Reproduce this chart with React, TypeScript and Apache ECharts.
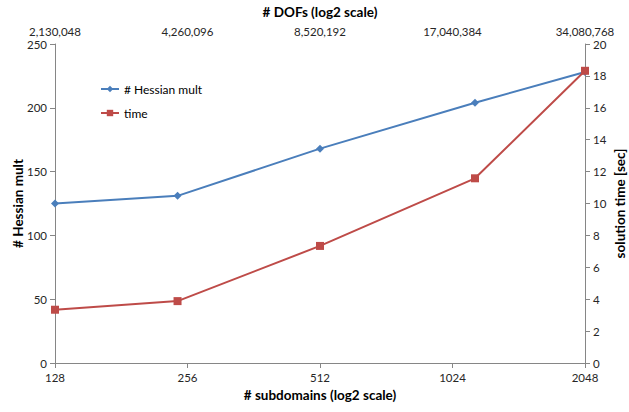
import React, { useEffect, useRef } from "react";
import * as echarts from "echarts";

// Number of subdomains (log2 x axis) and the measurements taken at each one
const subdomains = [128, 243, 512, 1152, 2048];
const hessianMult = [125, 131, 168, 204, 228];
const solutionTime = [3.34, 3.88, 7.34, 11.58, 18.32];

// Bottom and top tick labels (each tick doubles the problem size)
const subdomainTicks = [128, 256, 512, 1024, 2048];
const dofTicks = ["2,130,048", "4,260,096", "8,520,192", "17,040,384", "34,080,768"];

const FONT = "Lato, 'Open Sans', sans-serif";
const AXIS_GREY = "#868686";
const LABEL = "#262626";

export default function App() {
  const ref = useRef<HTMLDivElement>(null);

  useEffect(() => {
    if (!ref.current) return;
    const chart = echarts.init(ref.current, undefined, { renderer: "svg" });

    const tickIndex = (v: number) => subdomainTicks.indexOf(Math.round(v));

    const axisLine = { show: true, lineStyle: { color: AXIS_GREY, width: 1 } };
    const nameStyle = { fontFamily: FONT, fontSize: 13.5, fontWeight: "bold" as const, color: "#000" };
    const labelStyle = { fontFamily: FONT, fontSize: 11.5, color: LABEL };

    chart.setOption({
      animation: false,
      backgroundColor: "#fff",
      textStyle: { fontFamily: FONT },
      grid: {
        left: 55,
        right: 44,
        top: 44,
        bottom: 49,
        containLabel: false,
        outerBoundsMode: "none",
      },
      legend: {
        orient: "vertical",
        left: 95,
        top: 78,
        itemGap: 12,
        itemWidth: 18,
        itemHeight: 8,
        textStyle: { fontFamily: FONT, fontSize: 12, color: "#000" },
        data: ["# Hessian mult", "time"],
      },
      xAxis: [
        {
          type: "log",
          logBase: 2,
          min: 128,
          max: 2048,
          position: "bottom",
          name: "# subdomains (log2 scale)",
          nameLocation: "middle",
          nameMoveOverlap: false,
          nameGap: 25,
          nameTextStyle: nameStyle,
          axisLine,
          axisTick: { show: true, length: 5, lineStyle: { color: AXIS_GREY } },
          axisLabel: {
            ...labelStyle,
            margin: 8,
            formatter: (v: number) => {
              const i = tickIndex(v);
              return i >= 0 ? String(subdomainTicks[i]) : "";
            },
          },
          splitLine: { show: false },
        },
        {
          type: "log",
          logBase: 2,
          min: 128,
          max: 2048,
          position: "top",
          name: "# DOFs (log2 scale)",
          nameLocation: "middle",
          nameMoveOverlap: false,
          nameGap: 25,
          nameTextStyle: nameStyle,
          axisLine,
          axisTick: { show: true, inside: true, length: 5, lineStyle: { color: AXIS_GREY } },
          axisLabel: {
            ...labelStyle,
            margin: 7,
            formatter: (v: number) => {
              const i = tickIndex(v);
              return i >= 0 ? dofTicks[i] : "";
            },
          },
          splitLine: { show: false },
        },
      ],
      yAxis: [
        {
          type: "value",
          min: 0,
          max: 250,
          interval: 50,
          position: "left",
          name: "# Hessian mult",
          nameLocation: "middle",
          nameMoveOverlap: false,
          nameRotate: 90,
          nameGap: 30,
          nameTextStyle: nameStyle,
          axisLine,
          axisTick: { show: true, length: 5, lineStyle: { color: AXIS_GREY } },
          axisLabel: { ...labelStyle, margin: 8 },
          splitLine: { show: false },
        },
        {
          type: "value",
          min: 0,
          max: 20,
          interval: 2,
          position: "right",
          name: "solution time [sec]",
          nameLocation: "middle",
          nameMoveOverlap: false,
          nameRotate: 90,
          nameGap: 28,
          nameTextStyle: nameStyle,
          axisLine,
          axisTick: { show: true, length: 5, lineStyle: { color: AXIS_GREY } },
          axisLabel: { ...labelStyle, margin: 8 },
          splitLine: { show: false },
        },
      ],
      series: [
        {
          name: "# Hessian mult",
          type: "line",
          xAxisIndex: 0,
          yAxisIndex: 0,
          data: subdomains.map((s, i) => [s, hessianMult[i]]),
          symbol: "diamond",
          symbolSize: 8,
          color: "#4a7ebb",
          lineStyle: { width: 2, color: "#4a7ebb" },
          itemStyle: { color: "#4a7ebb" },
        },
        {
          name: "time",
          type: "line",
          xAxisIndex: 0,
          yAxisIndex: 1,
          data: subdomains.map((s, i) => [s, solutionTime[i]]),
          symbol: "rect",
          symbolSize: 8,
          color: "#be4b48",
          lineStyle: { width: 2, color: "#be4b48" },
          itemStyle: { color: "#be4b48" },
        },
      ],
    });

    return () => chart.dispose();
  }, []);

  return (
    <div
      ref={ref}
      style={{ position: "fixed", left: 0, top: 0, width: 629, height: 412, background: "#fff" }}
    />
  );
}
